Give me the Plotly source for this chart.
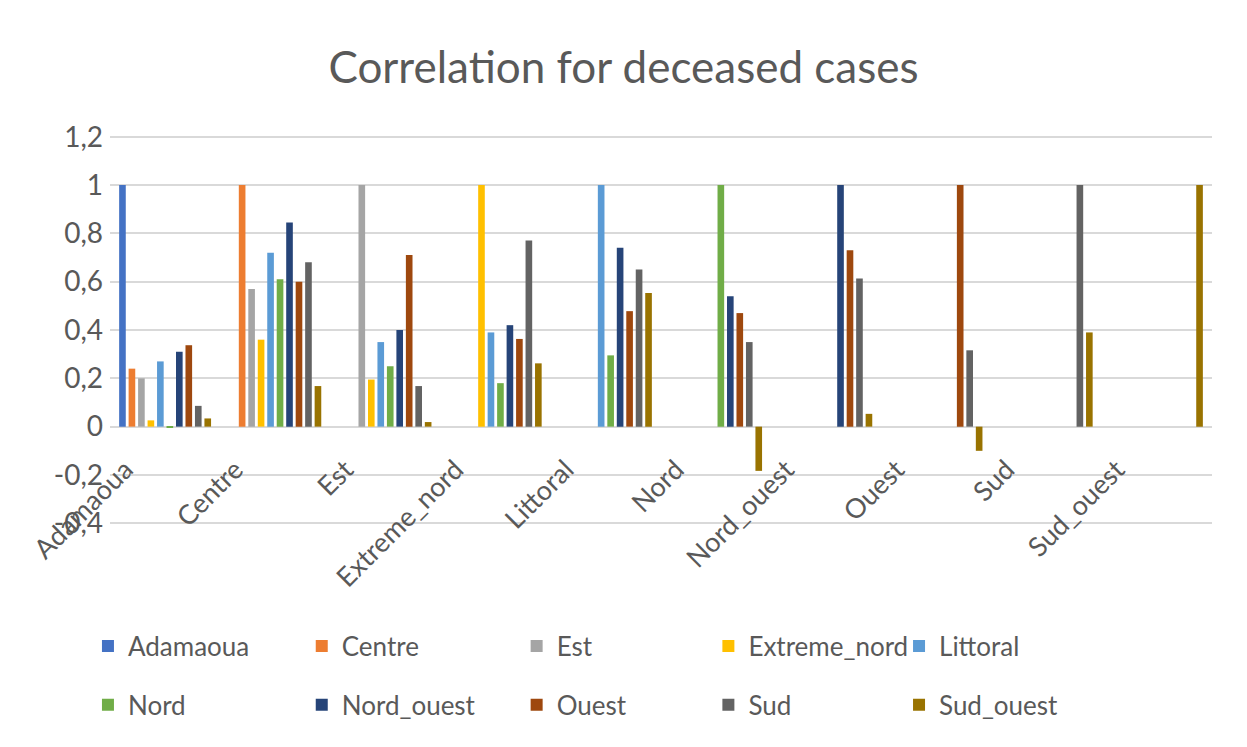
import plotly.graph_objects as go

regions = ['Adamaoua', 'Centre', 'Est', 'Extreme_nord', 'Littoral',
           'Nord', 'Nord_ouest', 'Ouest', 'Sud', 'Sud_ouest']

# correlation of each region (series) against each category, upper triangle only
adamaoua = [1, None, None, None, None, None, None, None, None, None]
centre = [0.24, 1, None, None, None, None, None, None, None, None]
est = [0.20, 0.57, 1, None, None, None, None, None, None, None]
extreme_nord = [0.026, 0.36, 0.195, 1, None, None, None, None, None, None]
littoral = [0.27, 0.72, 0.35, 0.39, 1, None, None, None, None, None]
nord = [-0.005, 0.61, 0.25, 0.18, 0.295, 1, None, None, None, None]
nord_ouest = [0.31, 0.845, 0.40, 0.42, 0.74, 0.54, 1, None, None, None]
ouest = [0.337, 0.60, 0.71, 0.363, 0.478, 0.47, 0.73, 1, None, None]
sud = [0.086, 0.68, 0.168, 0.77, 0.65, 0.35, 0.613, 0.316, 1, None]
sud_ouest = [0.034, 0.168, 0.019, 0.262, 0.553, -0.183, 0.053, -0.10, 0.39, 1]

series = [adamaoua, centre, est, extreme_nord, littoral,
          nord, nord_ouest, ouest, sud, sud_ouest]
colors = ['#4472C4', '#ED7D31', '#A5A5A5', '#FFC000', '#5B9BD5',
          '#70AD47', '#264478', '#9E480E', '#636363', '#997300']

y_ticks = [-0.4, -0.2, 0, 0.2, 0.4, 0.6, 0.8, 1, 1.2]
y_text = ['-0,4', '-0,2', '0', '0,2', '0,4', '0,6', '0,8', '1', '1,2']

grey = '#595959'
# legend laid out in 5 columns of 2 rows, like the Excel one
legend_names = ['legend', 'legend2', 'legend3', 'legend4', 'legend5']
legend_x = [-0.02, 0.174, 0.369, 0.543, 0.716]

fig = go.Figure()
for i, (name, vals) in enumerate(zip(regions, series)):
    fig.add_trace(go.Bar(x=regions, y=vals, name=name, marker_color=colors[i],
                         marker_line_width=0, legendgroup=name,
                         legend=legend_names[i % 5]))

legends = {}
for key, lx in zip(legend_names, legend_x):
    legends[key] = dict(orientation='v', x=lx, xanchor='left', y=-0.25,
                        yanchor='top', tracegroupgap=22,
                        font=dict(size=26, color=grey),
                        bgcolor='rgba(0,0,0,0)')

# page body has an 8px margin, so the figure is a bit smaller than the window
fig.update_layout(
    title=dict(text='Correlation for deceased cases', x=0.5, xanchor='center',
               y=0.918, yanchor='middle', font=dict(size=44, color=grey)),
    font=dict(family='Lato, Open Sans, sans-serif', color=grey),
    barmode='group', bargap=0.14, bargroupgap=0.3,
    plot_bgcolor='white', paper_bgcolor='white',
    width=1231, height=731,
    margin=dict(l=102, r=27, t=127, b=214, autoexpand=False),
    xaxis=dict(anchor='free', position=0.25, tickangle=-45,
               tickfont=dict(size=27, color=grey), showline=False,
               ticks='', showgrid=False, ticklabelshift=-40,
               ticklabelstandoff=20),
    yaxis=dict(range=[-0.407, 1.207], tickvals=y_ticks, ticktext=y_text,
               tickfont=dict(size=28, color=grey), showgrid=True,
               gridcolor='#D9D9D9', gridwidth=1.5, zeroline=True,
               zerolinecolor='#D9D9D9', zerolinewidth=1.5, ticks='',
               ticklabelstandoff=6),
    showlegend=True,
    **legends,
)

fig.write_html('out.html')
